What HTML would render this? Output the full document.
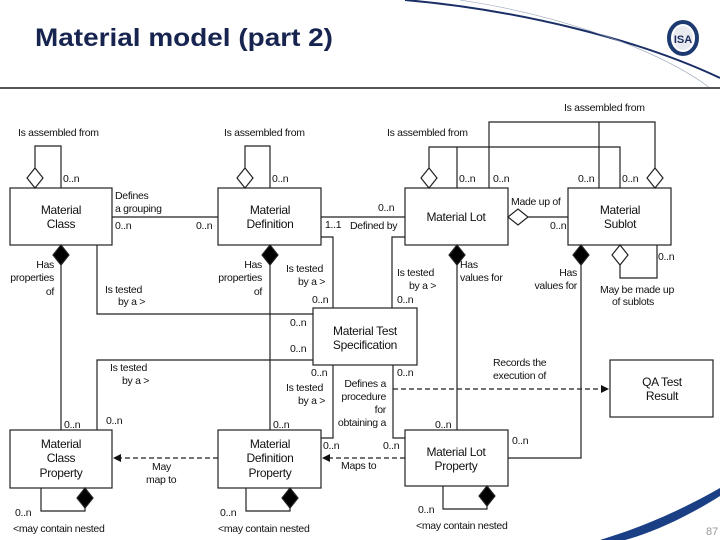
<!DOCTYPE html>
<html><head><meta charset="utf-8"><style>
html,body{margin:0;padding:0;background:#fff;}
svg{display:block;font-family:"Liberation Sans",Arial,sans-serif;}
.t{font-size:10.5px;fill:#111;letter-spacing:-0.3px;}
.b{font-size:12px;fill:#111;letter-spacing:-0.3px;}
</style></head><body>
<svg width="720" height="540" viewBox="0 0 720 540" xmlns="http://www.w3.org/2000/svg">
<defs><marker id="ar" markerWidth="8" markerHeight="8" refX="7" refY="4" orient="auto" markerUnits="userSpaceOnUse"><path d="M0,0 L8,4 L0,8 z" fill="#111"/></marker></defs>
<!-- header -->
<path d="M405,0 C520,10 640,40 720,78" stroke="#1a2f66" stroke-width="2" fill="none"/>
<path d="M460,0 C560,15 660,50 710,88" stroke="#9aa6bb" stroke-width="0.6" fill="none"/>
<text x="35" y="46" textLength="298" lengthAdjust="spacingAndGlyphs" style="font-size:25px;font-weight:bold;fill:#16244f">Material model (part 2)</text>
<ellipse cx="683" cy="38" rx="14" ry="16" fill="#fff" stroke="#1d3a70" stroke-width="4"/>
<ellipse cx="683" cy="38" rx="10" ry="12" fill="#e8eaf0"/>
<text x="683" y="43" text-anchor="middle" style="font-size:11px;font-weight:bold;fill:#1d2c5c">ISA</text>
<rect x="0" y="87" width="720" height="2" fill="#555"/>
<path d="M600,540 C650,525 690,505 720,488 L720,496 C690,515 655,532 625,540 z" fill="#1a3f85"/>
<text x="706" y="535" style="font-size:11px;fill:#999">87</text>

<g stroke="#222" stroke-width="1.2" fill="none">
<rect x="10" y="188" width="102" height="57" fill="#fff"/>
<rect x="218" y="188" width="103" height="57" fill="#fff"/>
<rect x="405" y="188" width="103" height="57" fill="#fff"/>
<rect x="568" y="188" width="103" height="57" fill="#fff"/>
<rect x="313" y="308" width="104" height="57" fill="#fff"/>
<rect x="610" y="360" width="103" height="57" fill="#fff"/>
<rect x="10" y="430" width="102" height="58" fill="#fff"/>
<rect x="218" y="430" width="103" height="58" fill="#fff"/>
<rect x="405" y="430" width="103" height="56" fill="#fff"/>
<polyline points="35,168 35,146 61,146 61,188"/>
<polyline points="245,168 245,146 270,146 270,188"/>
<polyline points="429,168 429,147 620,147 620,188"/>
<line x1="457" y1="147" x2="457" y2="188"/>
<polyline points="489,188 489,122 655,122 655,168"/>
<line x1="599" y1="122" x2="599" y2="188"/>
<line x1="112" y1="217" x2="218" y2="217"/>
<line x1="321" y1="217" x2="405" y2="217"/>
<line x1="528" y1="217" x2="568" y2="217"/>
<polyline points="620,265 620,278 657,278 657,245"/>
<line x1="61" y1="265" x2="61" y2="430"/>
<line x1="270" y1="265" x2="270" y2="430"/>
<line x1="457" y1="265" x2="457" y2="430"/>
<polyline points="581,265 581,458 508,458"/>
<polyline points="97,245 97,314 313,314"/>
<polyline points="97,430 97,360 313,360"/>
<polyline points="321,237 333,237 333,308"/>
<polyline points="405,237 392,237 392,308"/>
<polyline points="333,365 333,438 321,438"/>
<polyline points="393,365 393,438 405,438"/>
<polyline points="85,507 85,511 41,511 41,488"/>
<polyline points="290,507 290,511 246,511 246,488"/>
<polyline points="487,505 487,509 443,509 443,486"/>
<line x1="393" y1="389" x2="608" y2="389" stroke-dasharray="5,3" marker-end="url(#ar)"/>
<line x1="218" y1="458" x2="114" y2="458" stroke-dasharray="5,3" marker-end="url(#ar)"/>
<line x1="405" y1="458" x2="323" y2="458" stroke-dasharray="5,3" marker-end="url(#ar)"/>
</g>
<g stroke="#222" stroke-width="1.2">
<path d="M35,168 l8,10 l-8,10 l-8,-10 z" fill="#fff"/>
<path d="M245,168 l8,10 l-8,10 l-8,-10 z" fill="#fff"/>
<path d="M429,168 l8,10 l-8,10 l-8,-10 z" fill="#fff"/>
<path d="M655,168 l8,10 l-8,10 l-8,-10 z" fill="#fff"/>
<path d="M508,217 l10,-8 l10,8 l-10,8 z" fill="#fff"/>
<path d="M620,245 l8,10 l-8,10 l-8,-10 z" fill="#fff"/>
<path d="M61,245 l8,10 l-8,10 l-8,-10 z" fill="#000"/>
<path d="M270,245 l8,10 l-8,10 l-8,-10 z" fill="#000"/>
<path d="M457,245 l8,10 l-8,10 l-8,-10 z" fill="#000"/>
<path d="M581,245 l8,10 l-8,10 l-8,-10 z" fill="#000"/>
<path d="M85,488 l8,10 l-8,10 l-8,-10 z" fill="#000"/>
<path d="M290,488 l8,10 l-8,10 l-8,-10 z" fill="#000"/>
<path d="M487,486 l8,10 l-8,10 l-8,-10 z" fill="#000"/>
</g>
<g class="b" text-anchor="middle">
<text x="61" y="214">Material</text><text x="61" y="228">Class</text>
<text x="270" y="214">Material</text><text x="270" y="228">Definition</text>
<text x="456" y="221">Material Lot</text>
<text x="620" y="214">Material</text><text x="620" y="228">Sublot</text>
<text x="365" y="335">Material Test</text><text x="365" y="349">Specification</text>
<text x="662" y="386">QA Test</text><text x="662" y="400">Result</text>
<text x="61" y="448">Material</text><text x="61" y="462">Class</text><text x="61" y="477">Property</text>
<text x="270" y="448">Material</text><text x="270" y="462">Definition</text><text x="270" y="477">Property</text>
<text x="456" y="456">Material Lot</text><text x="456" y="470">Property</text>
</g>
<g class="t">
<text x="18" y="136">Is assembled from</text>
<text x="224" y="136">Is assembled from</text>
<text x="387" y="136">Is assembled from</text>
<text x="564" y="111">Is assembled from</text>
<text x="63" y="182">0..n</text><text x="272" y="182">0..n</text>
<text x="459" y="182">0..n</text><text x="493" y="182">0..n</text>
<text x="578" y="182">0..n</text><text x="622" y="182">0..n</text>
<text x="115" y="199">Defines</text><text x="115" y="212">a grouping</text>
<text x="115" y="229">0..n</text><text x="196" y="229">0..n</text>
<text x="378" y="211">0..n</text><text x="325" y="228">1..1</text><text x="350" y="229">Defined by</text>
<text x="511" y="205">Made up of</text><text x="550" y="229">0..n</text>
<text x="658" y="260">0..n</text>
<text x="600" y="293">May be made up</text><text x="612" y="305">of sublots</text>
<g text-anchor="end">
<text x="54" y="268">Has</text><text x="54" y="281">properties</text><text x="54" y="295">of</text>
<text x="262" y="268">Has</text><text x="262" y="281">properties</text><text x="262" y="295">of</text>
<text x="577" y="276">Has</text><text x="577" y="289">values for</text>
<text x="386" y="387">Defines a</text><text x="386" y="400">procedure</text><text x="386" y="413">for</text><text x="386" y="426">obtaining a</text>
</g>
<text x="105" y="293">Is tested</text><text x="118" y="305">by a &gt;</text>
<text x="286" y="272">Is tested</text><text x="298" y="285">by a &gt;</text><text x="312" y="303">0..n</text>
<text x="397" y="276">Is tested</text><text x="409" y="289">by a &gt;</text><text x="397" y="303">0..n</text>
<text x="460" y="268">Has</text><text x="460" y="281">values for</text>
<text x="290" y="326">0..n</text><text x="290" y="352">0..n</text>
<text x="110" y="371">Is tested</text><text x="122" y="384">by a &gt;</text>
<text x="311" y="376">0..n</text><text x="397" y="376">0..n</text>
<text x="286" y="391">Is tested</text><text x="298" y="404">by a &gt;</text>
<text x="493" y="366">Records the</text><text x="493" y="379">execution of</text>
<text x="64" y="428">0..n</text><text x="106" y="424">0..n</text>
<text x="273" y="428">0..n</text><text x="435" y="428">0..n</text>
<text x="512" y="444">0..n</text>
<text x="323" y="449">0..n</text><text x="383" y="449">0..n</text>
<text x="152" y="470">May</text><text x="146" y="483">map to</text>
<text x="341" y="469">Maps to</text>
<text x="15" y="516">0..n</text><text x="13" y="532">&lt;may contain nested</text>
<text x="220" y="516">0..n</text><text x="218" y="532">&lt;may contain nested</text>
<text x="418" y="513">0..n</text><text x="416" y="529">&lt;may contain nested</text>
</g>
</svg>
</body></html>
